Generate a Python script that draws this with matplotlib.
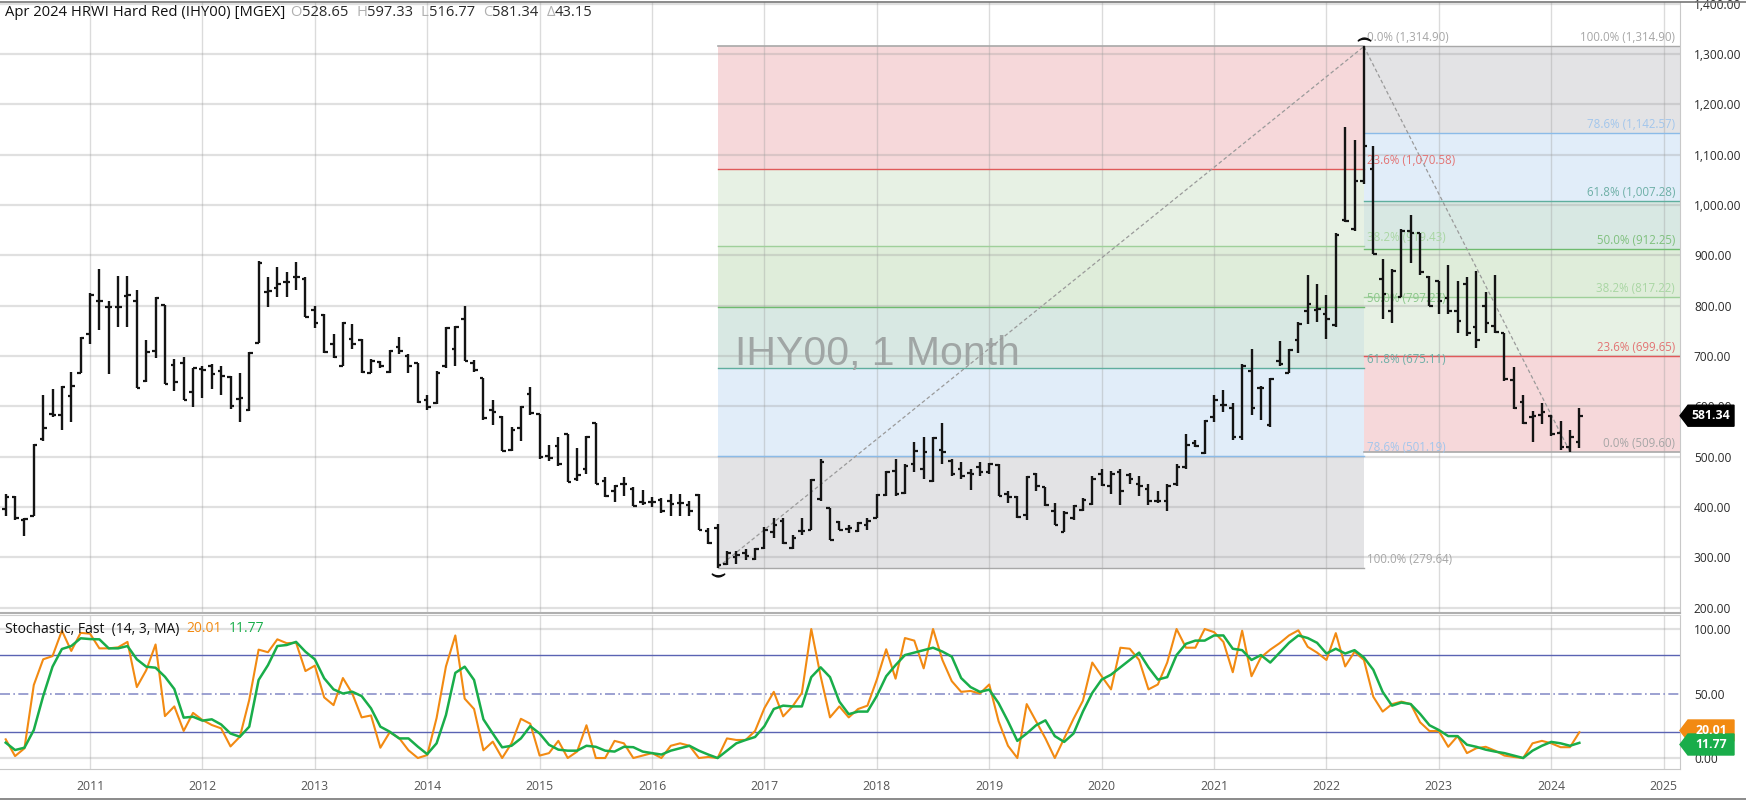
import numpy as np
import pandas as pd
import matplotlib
matplotlib.use('Agg')
import matplotlib.pyplot as plt
from matplotlib.patches import Polygon

# monthly bars, Apr 2010 .. Apr 2024
months = pd.date_range('2010-04-01', '2024-04-01', freq='MS')

opens = [395, 420, 375, 382, 535, 585, 582, 620, 666, 744, 810, 797, 797, 820, 810, 651, 710, 802, 683, 687,
         628, 675, 680, 670, 658, 615, 593, 726, 827, 836, 846, 856, 853, 792, 782, 724, 680, 734, 732, 666,
         688, 668, 718, 700, 687, 612, 607, 680, 714, 773, 687, 656, 592, 578, 513, 556, 624, 585, 502, 521,
         544, 455, 475, 566, 451, 431, 446, 436, 410, 410, 414, 412, 407, 404, 423, 353, 358, 287, 300, 309,
         297, 319, 351, 373, 319, 353, 355, 415, 397, 371, 357, 353, 365, 378, 423, 472, 428, 485, 475, 451,
         514, 492, 475, 468, 480, 470, 483, 426, 419, 384, 466, 439, 392, 351, 378, 394, 406, 466, 441, 470,
         463, 446, 436, 412, 412, 446, 480, 527, 507, 578, 602, 597, 539, 670, 636, 563, 690, 666, 732, 790,
         792, 783, 761, 970, 952, 1047, 1071, 853, 790, 818, 948, 944, 856, 848, 815, 790, 843, 758, 800, 760,
         745, 652, 609, 578, 583, 581, 546, 520, 528.65]
highs = [426, 421, 378, 526, 622, 635, 641, 668, 738, 825, 873, 810, 859, 859, 832, 732, 818, 802, 693, 697,
         677, 680, 685, 680, 661, 666, 707, 888, 856, 877, 866, 887, 856, 800, 783, 744, 768, 763, 734, 693,
         690, 712, 737, 703, 687, 622, 670, 758, 760, 800, 692, 656, 612, 580, 558, 601, 639, 585, 524, 539,
         544, 517, 541, 566, 459, 443, 459, 439, 433, 420, 417, 426, 426, 412, 426, 358, 367, 312, 312, 316,
         319, 361, 378, 378, 344, 378, 456, 495, 397, 373, 365, 371, 378, 426, 472, 495, 485, 529, 539, 539,
         566, 495, 490, 475, 490, 488, 485, 431, 421, 461, 468, 439, 407, 392, 404, 417, 461, 475, 472, 475,
         468, 461, 446, 431, 446, 485, 544, 534, 573, 622, 632, 607, 685, 714, 641, 656, 729, 714, 768, 861,
         843, 822, 944, 1155, 1130, 1314.9, 1117, 892, 872, 953, 980, 944, 858, 848, 880, 848, 856, 868, 827, 861,
         745, 679, 622, 591, 607, 583, 571, 553, 597.33]
lows = [383, 375, 343, 382, 531, 578, 553, 568, 666, 724, 752, 664, 758, 758, 636, 648, 695, 644, 631, 612,
        599, 617, 634, 623, 594, 568, 591, 726, 797, 817, 817, 831, 778, 755, 706, 695, 680, 714, 666, 666,
        677, 666, 703, 666, 607, 592, 605, 677, 680, 690, 668, 573, 563, 511, 511, 531, 583, 495, 492, 482,
        449, 451, 466, 446, 419, 410, 422, 402, 404, 400, 388, 383, 383, 383, 355, 326, 279.64, 285, 287, 295,
        295, 316, 339, 326, 316, 344, 355, 412, 334, 355, 348, 351, 355, 378, 421, 421, 426, 470, 456, 449,
        485, 461, 456, 433, 461, 466, 421, 407, 378, 375, 431, 402, 365, 351, 375, 392, 404, 441, 426, 404,
        446, 421, 404, 407, 392, 441, 475, 519, 505, 568, 588, 534, 534, 583, 573, 558, 680, 666, 705, 763,
        768, 734, 758, 966, 949, 1041, 902, 773, 766, 817, 885, 861, 799, 783, 783, 746, 739, 716, 746, 745,
        650, 594, 565, 530, 565, 540, 513, 509.6, 516.77]
closes = [420, 378, 377, 524, 556, 582, 639, 640, 735, 822, 810, 797, 797, 822, 636, 707, 816, 644, 648, 612,
          677, 673, 665, 660, 600, 617, 705, 885, 830, 843, 846, 856, 778, 765, 707, 697, 765, 724, 668, 690,
          680, 710, 709, 680, 609, 599, 666, 755, 758, 690, 673, 576, 589, 511, 553, 599, 587, 500, 498, 485,
          449, 463, 539, 446, 422, 441, 446, 402, 407, 410, 391, 405, 407, 392, 355, 329, 285, 309, 304, 302,
          316, 355, 365, 329, 339, 353, 453, 490, 334, 355, 358, 368, 373, 423, 470, 425, 482, 512, 510, 537,
          509, 466, 461, 466, 470, 485, 421, 420, 381, 459, 441, 404, 365, 388, 402, 414, 456, 443, 466, 431,
          456, 441, 412, 412, 441, 480, 524, 522, 570, 612, 602, 539, 680, 597, 636, 654, 685, 712, 763, 804,
          794, 773, 941, 968, 1047, 1117, 902, 824, 868, 948, 945, 866, 800, 810, 790, 770, 745, 732, 765, 748,
          654, 596, 566, 581, 588, 545, 520, 538.19, 581.34]

# Stochastic fast (14, 3, MA): %K orange, %D green
stoch_k = [14.5, 1.5, 7.5, 56.6, 76.5, 79, 98.7, 83, 97, 96.4, 85, 85, 85.8, 90, 55, 68, 88, 32.5, 40, 21,
           35, 29.5, 25.6, 23, 9, 16.5, 45, 84, 82, 92, 89, 89.4, 67.4, 71.6, 47, 41, 62, 50, 31.5, 33,
           8, 20, 15.5, 6, 0, 2.3, 31, 71, 95, 46, 38, 6, 12.7, 0, 11.4, 30.4, 26.6, 1.9, 3.8, 13.3,
           0, 5, 25.4, 0, 0, 13.3, 11.4, 0, 1.9, 3.8, 0, 9.5, 11.4, 9.5, 0, 0.8, 0, 15.2, 14, 14,
           21, 38.7, 51.3, 32.3, 40, 50.5, 100, 63.4, 31.5, 40, 31.5, 38, 40.6, 60.8, 84.3, 61.5, 93, 91, 69.5, 100,
           76, 59.6, 51.3, 52, 50, 57, 28.5, 9.5, 0, 41.8, 28.5, 15.2, 0, 15.2, 30.4, 44.4, 74, 63.4, 53.2, 85.5,
           84.7, 76, 53.2, 57, 74, 100, 85.5, 85.5, 100, 97.6, 90, 66.5, 98.7, 63.4, 78, 84, 89, 95, 99, 86.2,
           81.7, 76, 96.8, 71, 82.4, 76, 47.5, 36, 41.8, 43.7, 41.8, 27.7, 20.9, 20.9, 8.7, 17, 3.8, 7.6, 8.7, 5.7,
           1.9, 0.8, 0, 11.4, 13.3, 11.4, 8.4, 8.4, 20.01]
stoch_d = [11.9, 6.2, 8, 21.7, 48, 70.8, 84.5, 86.8, 92.8, 92.2, 92, 85, 85, 86.8, 76.5, 70.8, 70, 63, 53.5, 31.3,
           32, 29, 30, 26, 19, 16.5, 24.3, 60.5, 72, 86.8, 87.6, 90, 82.4, 76.5, 61.8, 53.2, 50, 51.4, 48, 38.5,
           24.3, 20.4, 15.2, 15.2, 8.8, 3, 11.4, 33.3, 66, 70.8, 60.5, 30, 19, 8.3, 9.5, 15.2, 24.7, 19, 10.3, 6.5,
           5.7, 5.7, 9.5, 8.7, 5.7, 5, 8.7, 8.4, 5, 3.8, 2.7, 5.7, 7.6, 9.5, 5.7, 2.7, 0, 5.7, 11.4, 14,
           16.3, 24.7, 38, 40.6, 40, 40, 62.7, 70.3, 62.7, 43.7, 34, 36, 36, 48.2, 63.4, 72, 79.8, 81.7, 83.6, 85.5,
           82.5, 78.6, 62, 55, 51.3, 53, 42.5, 28.5, 13.3, 19, 25.4, 29.2, 17, 12.5, 19, 36, 50.5, 60.8, 64.6, 70.3,
           76, 81.7, 70.3, 60.8, 62.7, 79.8, 88.5, 91, 91, 95, 95, 84.7, 83.6, 76, 79.8, 74, 81.7, 89.3, 95, 93,
           89.3, 81, 84.7, 81, 83.6, 77.9, 68.4, 51.3, 40.6, 43, 41.8, 34.2, 25.4, 21.7, 17, 17, 10.3, 8.7, 6.5, 5,
           3.8, 1.9, 0, 5.7, 9.5, 12.5, 11.4, 9.5, 11.77]

# fibonacci retracements: (pct label, price) for the up-swing and the down-swing
fib_up = [('0.0%', 1314.90), ('23.6%', 1070.58), ('38.2%', 919.43), ('50.0%', 797.27),
          ('61.8%', 675.11), ('78.6%', 501.19), ('100.0%', 279.64)]
fib_down = [('100.0%', 1314.90), ('78.6%', 1142.57), ('61.8%', 1007.28), ('50.0%', 912.25),
            ('38.2%', 817.22), ('23.6%', 699.65), ('0.0%', 509.60)]
years = list(range(2011, 2026))
price_ticks = list(range(200, 1500, 100))

W, H = 1746, 800
n_bars = len(months)
x = np.arange(1, n_bars + 1)

# style
fill_cols = ['#f6d8da', '#e7f1e4', '#dfedda', '#d8e8e3', '#e1edf9', '#e3e3e5']
line_cols = ['#e05a5a', '#9fd09a', '#6fbb6f', '#5fae9e', '#8bbbe8', '#a8a8a8']
up_lbl_cols = ['#a6a6a6', '#e37373', '#a9d6a3', '#8bc78a', '#6dafa6', '#a2c6ec', '#a6a6a6']
dn_lbl_cols = ['#a6a6a6', '#a2c6ec', '#6dafa6', '#7fc07d', '#a9d6a3', '#e37373', '#a6a6a6']
orange = '#f28a12'
green = '#19ad4a'
font = 'Open Sans'


def fpx(px, py):
    return px / W, 1 - py / H


fig = plt.figure(figsize=(W / 100, H / 100), dpi=100)
ax = fig.add_axes([0, 1 - 613 / H, 1680 / W, 611 / H])
ax2 = fig.add_axes([0, 1 - 769 / H, 1680 / W, 154 / H], sharex=ax)

x_left = 1 - 5.7 / 9.367
x_right = 1 + 1674.3 / 9.367
ax.set_xlim(x_left, x_right)
ax.set_ylim(189.3, 1403.3)
ax2.set_ylim(-8.5, 110.85)

jan_idx = [i + 1 for i, m in enumerate(months) if m.month == 1] + [178]

# grid
for p in price_ticks:
    ax.axhline(p, color='#9a9a9a', alpha=0.3, lw=1.6, zorder=1)
for j in jan_idx:
    ax.axvline(j, color='#9a9a9a', alpha=0.35, lw=1.0, zorder=1)
    ax2.axvline(j, color='#9a9a9a', alpha=0.35, lw=1.0, zorder=1)

# fib zones
i_lo = 77
i_hi = 146
up_levels = [v for _, v in fib_up]
for k in range(6):
    ax.fill_between([i_lo, i_hi], up_levels[k + 1], up_levels[k], color=fill_cols[k], lw=0, zorder=0)
    ax.plot([i_lo, i_hi], [up_levels[k + 1]] * 2, color=line_cols[k], lw=1.0, zorder=1.5)
ax.plot([i_lo, i_hi], [up_levels[0]] * 2, color='#a8a8a8', lw=1.2, zorder=1.5)
dn_levels = [v for _, v in fib_down]
for k in range(6):
    # from the bottom: pink, light green, green, teal, blue, gray
    lo = dn_levels[6 - k]
    hi = dn_levels[5 - k]
    ax.fill_between([i_hi, x_right], lo, hi, color=fill_cols[k], lw=0, zorder=0)
    ax.plot([i_hi, x_right], [hi] * 2, color=line_cols[k] if k < 5 else '#a8a8a8', lw=1.0, zorder=1.5)
ax.plot([i_hi, x_right], [dn_levels[6]] * 2, color='#a8a8a8', lw=1.2, zorder=1.5)

lab_kw = dict(fontsize=8.3, family=font, va='bottom', zorder=4)
for (pct, v), c in zip(fib_up, up_lbl_cols):
    ax.text(146.35, v + 4, '%s (%s)' % (pct, format(v, ',.2f')), color=c, ha='left', **lab_kw)
for (pct, v), c in zip(fib_down, dn_lbl_cols):
    ax.text(179.2, v + 4, '%s (%s)' % (pct, format(v, ',.2f')), color=c, ha='right', **lab_kw)

# watermark
ax.text(78.9, 682, 'IHY00, 1 Month', fontsize=29.5, family='Liberation Sans', color='#a0a6a5',
        ha='left', va='baseline', zorder=2)

# trend lines between swing points
ax.plot([i_lo, i_hi], [279.64, 1314.90], color='#9a9a9a', lw=0.9, ls=(0, (3, 2)), zorder=2.5)
ax.plot([i_hi, 168], [1314.90, 509.60], color='#9a9a9a', lw=0.9, ls=(0, (3, 2)), zorder=2.5)
ax.plot([i_hi], [1314.90 + 14], marker=r'$\frown$', ms=9, color='#111111', zorder=5)
ax.plot([i_lo], [279.64 - 14], marker=r'$\smile$', ms=9, color='#111111', zorder=5)

# OHLC bars
tick_w = 0.38
ax.vlines(x, lows, highs, color='#141414', lw=1.7, zorder=4)
ax.hlines(opens, x - tick_w, x, color='#141414', lw=1.6, zorder=4)
ax.hlines(closes, x, x + tick_w, color='#141414', lw=1.6, zorder=4)

# price axis
ax.yaxis.tick_right()
ax.set_yticks(price_ticks)
ax.set_yticklabels([format(p, ',.2f') for p in price_ticks], family=font, fontsize=8.6, color='#2a2a2a')
ax.tick_params(axis='y', length=0, pad=10)
ax.tick_params(axis='x', length=0, labelbottom=False)
for s in ['left', 'top']:
    ax.spines[s].set_visible(False)
ax.spines['right'].set_color('#c8c8c8')
ax.spines['bottom'].set_color('#b0b0b0')
ax.spines['bottom'].set_linewidth(1.5)

# stochastic panel
ax2.axhline(100, color='#9a9a9a', alpha=0.3, lw=1.6, zorder=1)
ax2.axhline(0, color='#9a9a9a', alpha=0.3, lw=1.6, zorder=1)
ax2.axhline(80, color='#5a63b3', lw=1.0, zorder=2)
ax2.axhline(20, color='#5a63b3', lw=1.0, zorder=2)
ax2.axhline(50, color='#8b91c9', lw=1.2, ls=(0, (6, 2, 1, 2)), zorder=2)
ax2.plot(x, stoch_k, color=orange, lw=1.5, zorder=3)
ax2.plot(x, stoch_d, color=green, lw=1.8, zorder=3)
ax2.yaxis.tick_right()
ax2.set_yticks([0, 50, 100])
ax2.set_yticklabels(['0.00', '50.00', '100.00'], family=font, fontsize=8.6, color='#2a2a2a')
ax2.tick_params(axis='y', length=0, pad=10)
ax2.set_xticks(jan_idx)
ax2.set_xticklabels([str(y) for y in years], family=font, fontsize=8.8, color='#555555')
ax2.tick_params(axis='x', length=0, pad=8)
ax2.spines['left'].set_visible(False)
ax2.spines['top'].set_color('#cfcfcf')
ax2.spines['right'].set_color('#c8c8c8')
ax2.spines['bottom'].set_color('#c8c8c8')


# callouts on the right axis
def callout(yc, text, fc):
    pts = [fpx(1680, yc), fpx(1688, yc - 10.5), fpx(1734, yc - 10.5), fpx(1734, yc + 10.5), fpx(1688, yc + 10.5)]
    fig.patches.append(Polygon(pts, closed=True, fc=fc, ec=fc, transform=fig.transFigure, zorder=10))
    tx, ty = fpx(1711, yc)
    fig.text(tx, ty, text, color='white', fontsize=8.8, fontweight='bold', family=font,
             ha='center', va='center', zorder=11)


y_last = 54 + (1300 - closes[-1]) * 0.5033
callout(y_last, format(closes[-1], '.2f'), '#000000')
callout(730.5, format(stoch_k[-1], '.2f'), orange)
callout(744.5, format(stoch_d[-1], '.2f'), green)

# header and panel titles, drawn piece by piece
renderer = fig.canvas.get_renderer()


def seq_text(x0, y0, pieces, size):
    xx = x0
    for s, c, gap in pieces:
        tx, ty = fpx(xx, y0)
        t = fig.text(tx, ty, s, color=c, fontsize=size, family=font, ha='left', va='center', zorder=12)
        xx += t.get_window_extent(renderer=renderer).width + gap


seq_text(5, 13, [('Apr 2024 HRWI Hard Red (IHY00) [MGEX]', '#111111', 5),
                 ('O', '#b0b0b0', 0), ('528.65', '#2a2a2a', 8),
                 ('H', '#b0b0b0', 0), ('597.33', '#2a2a2a', 8),
                 ('L', '#b0b0b0', 0), ('516.77', '#2a2a2a', 8),
                 ('C', '#b0b0b0', 0), ('581.34', '#2a2a2a', 8),
                 ('\u0394', '#b0b0b0', 0), ('43.15', '#2a2a2a', 0)], 10.6)
seq_text(5, 629, [('Stochastic, Fast  (14, 3, MA)', '#111111', 7),
                  ('20.01', orange, 7), ('11.77', green, 0)], 10.0)

# outer frame lines
fig.add_artist(plt.Line2D([0, 1], [1 - 1.5 / H, 1 - 1.5 / H], color='#777777', lw=1.2, transform=fig.transFigure))
fig.add_artist(plt.Line2D([0, 1], [1.5 / H, 1.5 / H], color='#777777', lw=1.2, transform=fig.transFigure))

fig.savefig('out.png', dpi=100)
